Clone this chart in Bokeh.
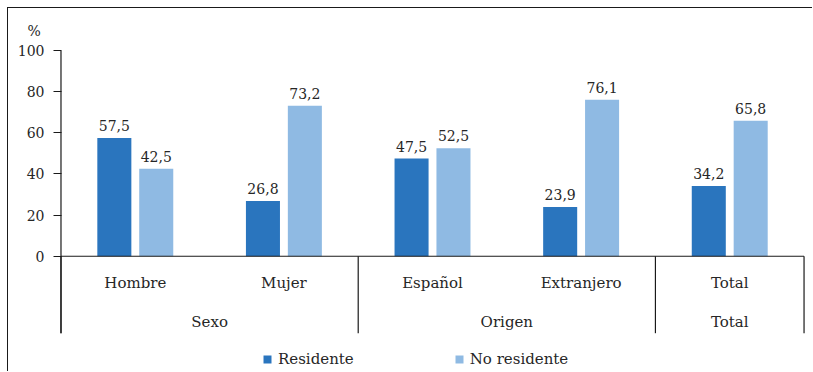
from bokeh.plotting import figure
from bokeh.models import (ColumnDataSource, Range1d, FixedTicker, Legend, LegendItem, Title)
from bokeh.core.properties import value
from bokeh.embed import file_html
from bokeh.resources import INLINE

# ---- data ----
categories = ["Hombre", "Mujer", "Español", "Extranjero", "Total"]
groups = ["Sexo", "Origen", "Total"]
group_sizes = [2, 2, 1]
residente = [57.5, 26.8, 47.5, 23.9, 34.2]
no_residente = [42.5, 73.2, 52.5, 76.1, 65.8]
y_ticks = [0, 20, 40, 60, 80, 100]
series_names = ["Residente", "No residente"]

FONT = "DejaVu Serif"
DARK = "#2A75BE"
LIGHT = "#8FBAE3"
TXT = "#262626"
LINE = "#1a1a1a"
Y_BOTTOM = -37.4   # bottom of the category-label area

p = figure(width=805, height=364, output_backend="svg", toolbar_location=None,
           x_axis_type=None, x_range=Range1d(-0.01, 5.03), y_range=Range1d(-56.5, 100),
           min_border_left=51, min_border_right=5, min_border_top=42, min_border_bottom=0)
p.margin = (7, 0, 0, 7)
p.styles = {"border-top": "1px solid #1a1a1a", "border-left": "1px solid #1a1a1a"}
p.outline_line_color = None
p.xgrid.visible = False
p.ygrid.visible = False

ax = p.yaxis[0]
ax.ticker = FixedTicker(ticks=y_ticks)
ax.minor_tick_line_color = None
ax.major_tick_in = 2
ax.major_tick_out = 6
ax.major_label_standoff = 9
ax.axis_line_color = None
ax.major_tick_line_color = LINE
ax.major_label_text_font = FONT
ax.major_label_text_font_size = "14px"
ax.major_label_text_color = TXT

n = len(categories)
centers = [i + 0.5 for i in range(n)]
off = 0.141
bw = 0.229
src_r = ColumnDataSource(dict(x=[c - off for c in centers], top=residente,
                              lbl=[f"{v:.1f}".replace(".", ",") for v in residente]))
src_n = ColumnDataSource(dict(x=[c + off for c in centers], top=no_residente,
                              lbl=[f"{v:.1f}".replace(".", ",") for v in no_residente]))
r1 = p.vbar(x="x", top="top", bottom=0, width=bw, source=src_r, fill_color=DARK, line_color=None)
r2 = p.vbar(x="x", top="top", bottom=0, width=bw, source=src_n, fill_color=LIGHT, line_color=None)

for s in (src_r, src_n):
    p.text(x="x", y="top", text="lbl", source=s, text_align="center", text_baseline="bottom",
           y_offset=-7, text_font=value(FONT), text_font_size="14px", text_color=TXT)

# value axis line, zero line and group separators
bounds = [0]
for g in group_sizes:
    bounds.append(bounds[-1] + g)
p.segment(x0=[0], y0=[Y_BOTTOM], x1=[0], y1=[100], line_color=LINE, line_width=1.2)
p.segment(x0=[0], y0=[0], x1=[n], y1=[0], line_color=LINE, line_width=1.2)
p.segment(x0=bounds, y0=[0] * len(bounds), x1=bounds, y1=[Y_BOTTOM] * len(bounds),
          line_color=LINE, line_width=1.2)

# category labels
p.text(x=centers, y=[-13.1] * n, text=categories, text_align="center", text_baseline="middle",
       text_font=value(FONT), text_font_size="15px", text_color=TXT)
gcent = [(bounds[i] + bounds[i + 1]) / 2 for i in range(len(groups))]
p.text(x=gcent, y=[-32.1] * len(groups), text=groups, text_align="center", text_baseline="middle",
       text_font=value(FONT), text_font_size="15px", text_color=TXT)

# % unit label
p.add_layout(Title(text="%", align="left", offset=-32, standoff=24, text_font=FONT,
                   text_font_size="14px", text_font_style="normal", text_color=TXT), "above")

legend = Legend(items=[LegendItem(label=series_names[0], renderers=[r1]),
                       LegendItem(label=series_names[1], renderers=[r2])],
                orientation="horizontal", location=(203, 4),
                glyph_width=10, glyph_height=10, label_standoff=6, spacing=100,
                label_text_font=FONT, label_text_font_size="15px", label_text_color=TXT,
                border_line_color=None, background_fill_alpha=0, padding=5, margin=0)
p.add_layout(legend, "center")

open("out.html", "w").write(file_html(p, INLINE))
